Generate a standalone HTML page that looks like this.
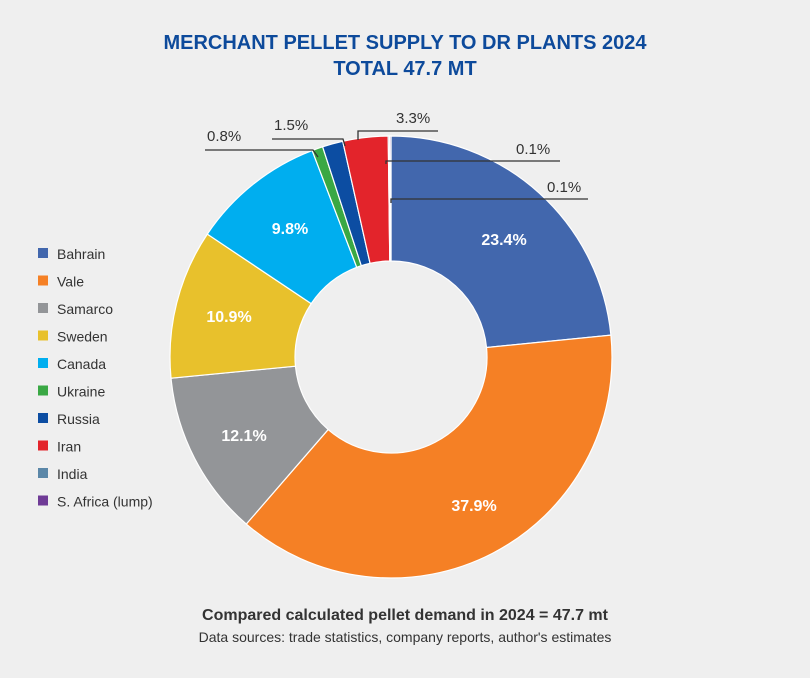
<!DOCTYPE html>
<html><head><meta charset="utf-8">
<style>
body{margin:0;background:#efefef;}
svg{display:block}
text{font-family:"Liberation Sans",sans-serif;}
</style></head>
<body>
<svg id="s" width="810" height="678" viewBox="0 0 810 678">
<rect width="810" height="678" fill="#efefef"/>
<text x="405" y="49" text-anchor="middle" font-size="20" font-weight="bold" fill="#0d4a9b">MERCHANT PELLET SUPPLY TO DR PLANTS 2024</text>
<text x="405" y="75" text-anchor="middle" font-size="20" font-weight="bold" fill="#0d4a9b">TOTAL 47.7 MT</text>
<g id="pie"></g>
<g fill="none" stroke="#333" stroke-width="1.3">
<polyline points="205,150 313,150 318,157"/>
<polyline points="272,139 343,139 345,146"/>
<polyline points="358,140 358,131 438,131"/>
<polyline points="386,164 386,161 560,161"/>
<polyline points="391,203 391,199 588,199"/>
</g>
<g font-size="15" fill="#333">
<text x="207" y="141">0.8%</text>
<text x="274" y="130">1.5%</text>
<text x="396" y="123">3.3%</text>
<text x="516" y="154">0.1%</text>
<text x="547" y="192">0.1%</text>
</g>
<g font-size="16" font-weight="bold" fill="#fff" text-anchor="middle">
<text x="504" y="245">23.4%</text>
<text x="474" y="511">37.9%</text>
<text x="244" y="441">12.1%</text>
<text x="229" y="322">10.9%</text>
<text x="290" y="234">9.8%</text>
</g>
<g id="leg" font-size="14" fill="#333"></g>
<text x="405" y="620" text-anchor="middle" font-size="16" font-weight="bold" fill="#333">Compared calculated pellet demand in 2024 = 47.7 mt</text>
<text x="405" y="642" text-anchor="middle" font-size="14" fill="#333">Data sources: trade statistics, company reports, author's estimates</text>
</svg>
<script>
var d=[["Bahrain",23.4,"#4267ad"],["Vale",37.9,"#f58025"],["Samarco",12.1,"#939598"],["Sweden",10.9,"#e8c12c"],["Canada",9.8,"#00aeef"],["Ukraine",0.8,"#3aa844"],["Russia",1.5,"#0c4da2"],["Iran",3.3,"#e3242b"],["India",0.1,"#5b87a8"],["S. Africa (lump)",0.1,"#6f3b96"]];
var cx=391,cy=357,R=221,r=96,tot=99.9,a=0,ns="http://www.w3.org/2000/svg",g=document.getElementById("pie"),L=document.getElementById("leg");
function p(rad,ang){return [cx+rad*Math.sin(ang),cy-rad*Math.cos(ang)];}
d.forEach(function(e,i){
 var b=a+e[1]/tot*2*Math.PI,lg=(b-a)>Math.PI?1:0;
 var p1=p(R,a),p2=p(R,b),p3=p(r,b),p4=p(r,a);
 var path=document.createElementNS(ns,"path");
 path.setAttribute("d","M"+p1+"A"+R+","+R+" 0 "+lg+" 1 "+p2+"L"+p3+"A"+r+","+r+" 0 "+lg+" 0 "+p4+"Z");
 path.setAttribute("fill",e[2]);path.setAttribute("stroke","#fff");path.setAttribute("stroke-width","1.2");
 g.appendChild(path);a=b;
 var y=258+i*27.5;
 var rc=document.createElementNS(ns,"rect");rc.setAttribute("x",38);rc.setAttribute("y",y-10);rc.setAttribute("width",10);rc.setAttribute("height",10);rc.setAttribute("fill",e[2]);L.appendChild(rc);
 var t=document.createElementNS(ns,"text");t.setAttribute("x",57);t.setAttribute("y",y+1);t.textContent=e[0];L.appendChild(t);
});
</script>
</body></html>
